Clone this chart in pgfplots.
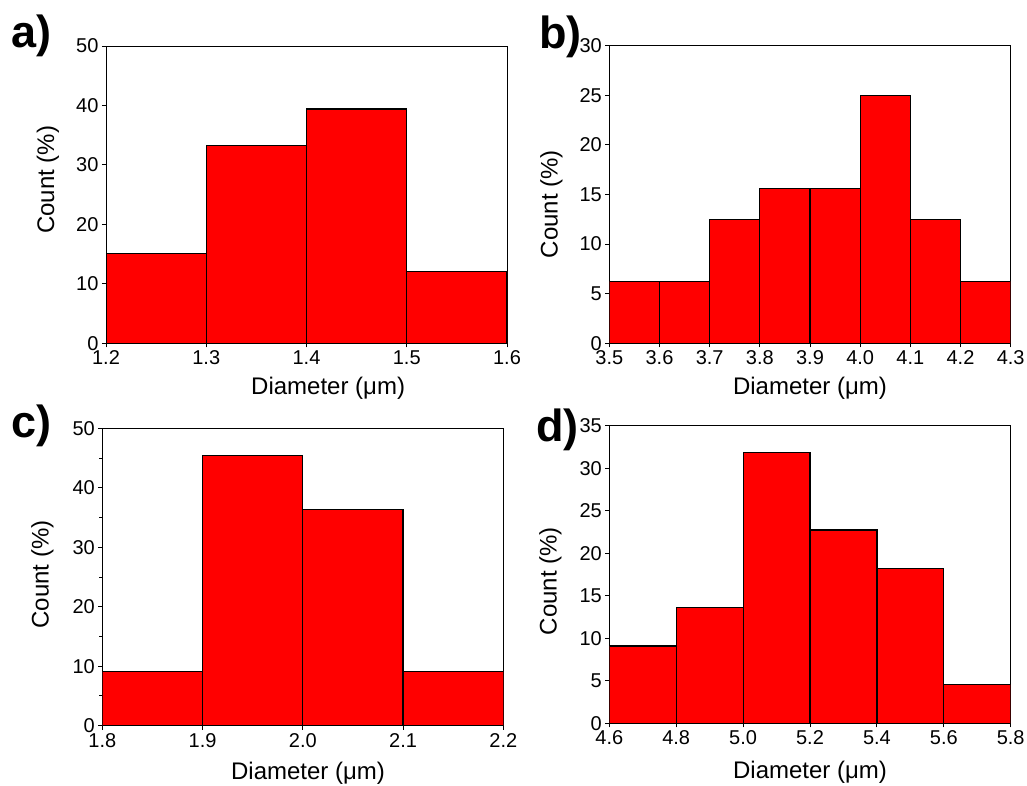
\documentclass[border=0pt]{standalone}
\usepackage{pgfplots}
\pgfplotsset{compat=1.18}
\usepackage{fontspec}
\setmainfont{Liberation Sans}
\pgfplotsset{
  hist/.style={
    scale only axis, anchor=south west,
    axis line style={line width=1pt},
    tick style={black, line width=1pt},
    major tick length=4pt, minor tick length=3pt,
    tick align=outside, xtick pos=bottom, ytick pos=left,
    ticklabel style={font=\fontsize{20}{20}\selectfont},
    /pgf/number format/assume math mode=true,
    xticklabel style={/pgf/number format/.cd, fixed, fixed zerofill, precision=1},
    yticklabel style={/pgf/number format/.cd, fixed, precision=0},
    label style={font=\fontsize{24}{24}\selectfont},
    ymin=0,
    xlabel={Diameter (μm)}, ylabel={Count (\%)},
  },
  bars/.style={ybar interval, fill=red, draw=black, line width=1.2pt},
}
\begin{document}
\begin{tikzpicture}
\useasboundingbox (0,0) rectangle (1027pt,-785pt);
% a
\begin{axis}[hist, at={(106pt,-343.3pt)}, width=401pt, height=297.3pt,
  xmin=1.2, xmax=1.6, xtick={1.2,1.3,...,1.61}, ymax=50, ytick={0,10,...,50},
  xlabel style={at={(axis description cs:0.554,0)}, anchor=center, yshift=-44.7pt},
  ylabel style={at={(axis description cs:0,0.55)}, anchor=center, yshift=58.2pt}]
\addplot[bars] coordinates {(1.2,15.15) (1.3,33.33) (1.4,39.39) (1.5,12.12) (1.6,12.12)};
\end{axis}
% b
\begin{axis}[hist, at={(609.3pt,-343.3pt)}, width=401.4pt, height=297.6pt,
  xmin=3.5, xmax=4.3, xtick={3.5,3.6,...,4.31}, ymax=30, ytick={0,5,...,30},
  xlabel style={at={(axis description cs:0.5,0)}, anchor=center, yshift=-45pt},
  ylabel style={at={(axis description cs:0,0.468)}, anchor=center, yshift=57.8pt}]
\addplot[bars] coordinates {(3.5,6.25) (3.6,6.25) (3.7,12.5) (3.8,15.625) (3.9,15.625) (4.0,25) (4.1,12.5) (4.2,6.25) (4.3,6.25)};
\end{axis}
% c
\begin{axis}[hist, at={(102.3pt,-725.7pt)}, width=401pt, height=297.4pt,
  xmin=1.8, xmax=2.2, xtick={1.8,1.9,...,2.21}, ymax=50, ytick={0,10,...,50},
  minor ytick={5,15,...,45},
  xlabel style={at={(axis description cs:0.513,0)}, anchor=center, yshift=-47.8pt},
  ylabel style={at={(axis description cs:0,0.508)}, anchor=center, yshift=59.8pt}]
\addplot[bars] coordinates {(1.8,9.09) (1.9,45.45) (2.0,36.36) (2.1,9.09) (2.2,9.09)};
\end{axis}
% d
\begin{axis}[hist, at={(609.3pt,-723.3pt)}, width=401.4pt, height=297.6pt,
  xmin=4.6, xmax=5.8, xtick={4.6,4.8,...,5.81}, ymax=35, ytick={0,5,...,35},
  xlabel style={at={(axis description cs:0.5,0)}, anchor=center, yshift=-48.6pt},
  ylabel style={at={(axis description cs:0,0.478)}, anchor=center, yshift=58.8pt}]
\addplot[bars] coordinates {(4.6,9.09) (4.8,13.64) (5.0,31.82) (5.2,22.73) (5.4,18.18) (5.6,4.55) (5.8,4.55)};
\end{axis}
\node[anchor=base west, inner sep=0pt, font=\fontsize{45}{45}\selectfont\bfseries] at (11pt,-47pt) {a)};
\node[anchor=base west, inner sep=0pt, font=\fontsize{45}{45}\selectfont\bfseries] at (539pt,-48pt) {b)};
\node[anchor=base west, inner sep=0pt, font=\fontsize{45}{45}\selectfont\bfseries] at (11pt,-437pt) {c)};
\node[anchor=base west, inner sep=0pt, font=\fontsize{45}{45}\selectfont\bfseries] at (536pt,-441pt) {d)};
\end{tikzpicture}
\end{document}
